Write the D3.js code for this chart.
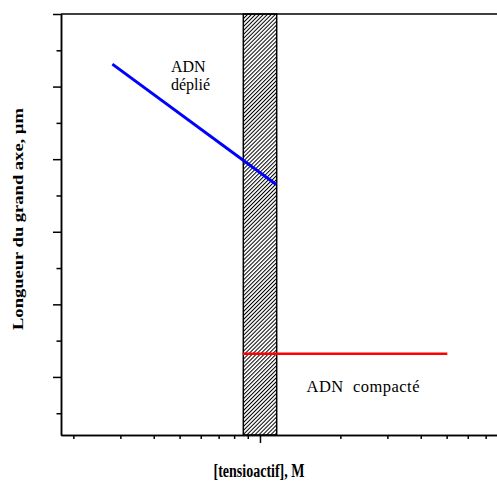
<!DOCTYPE html>
<html>
<head>
<meta charset="utf-8">
<script src="https://cdn.jsdelivr.net/npm/d3@7"></script>
<style>
  body { margin: 0; background: #fff; }
  text { font-family: "Liberation Serif", "Times New Roman", "DejaVu Serif", serif; }
  .axis path, .axis line { stroke: #000; stroke-width: 1.5; }
</style>
</head>
<body>
<div class="container"></div>
<script>
const WIDTH = 497,
      HEIGHT = 484,
      SERIF = '"Liberation Serif", "Times New Roman", "DejaVu Serif", serif';

// concentration band where the transition happens (M)
var band = [8.66e-4, 1.155e-3];
// unfolded DNA: long axis decreasing with surfactant concentration
var deplieX = [2.8e-4, 1.15e-3],
    deplieY = [5.31, 3.65];
// compacted DNA: constant length
var compacteX = [8.62e-4, 5.03e-3],
    compacteY = [1.32, 1.32];

var yMajor = [1, 2, 3, 4, 5, 6],
    yMinor = [0.5, 1.5, 2.5, 3.5, 4.5, 5.5];
var xMajor = [1e-3],
    xMinor = [2e-4, 3e-4, 4e-4, 5e-4, 6e-4, 7e-4, 8e-4, 9e-4, 2e-3, 3e-3, 4e-3, 5e-3, 6e-3, 7e-3];

var margin = {left: 61, top: 14, right: 0, bottom: 49};

var x = d3.scaleLog().domain([1.798e-4, 7.72e-3]).range([margin.left, WIDTH - margin.right]);
var y = d3.scaleLinear().domain([0.2, 6]).range([HEIGHT - margin.bottom, margin.top]);

var svg = d3.select('.container').append('svg')
    .attr('width', WIDTH).attr('height', HEIGHT);

var defs = svg.append('defs');
var pat = defs.append('pattern')
    .attr('id', 'hatch')
    .attr('patternUnits', 'userSpaceOnUse')
    .attr('width', 2.8).attr('height', 2.8)
    .attr('patternTransform', 'rotate(45)');
pat.append('line')
    .attr('x1', 0.5).attr('y1', 0).attr('x2', 0.5).attr('y2', 2.8)
    .attr('stroke', '#000').attr('stroke-width', 1);

// hatched transition zone
svg.append('rect')
    .attr('x', x(band[0])).attr('y', y(6))
    .attr('width', x(band[1]) - x(band[0]))
    .attr('height', y(0.2) - y(6))
    .attr('fill', 'url(#hatch)')
    .attr('stroke', '#000').attr('stroke-width', 1.5);

// top border
svg.append('line')
    .attr('x1', x.range()[0]).attr('x2', x.range()[1])
    .attr('y1', y(6)).attr('y2', y(6))
    .attr('stroke', '#000').attr('stroke-width', 1.5);

// axes
svg.append('g').attr('class', 'axis')
    .attr('transform', 'translate(' + margin.left + ',0)')
    .call(d3.axisLeft(y).tickValues(yMajor).tickSize(8).tickSizeOuter(0).tickFormat(''));
svg.append('g').attr('class', 'axis')
    .attr('transform', 'translate(' + margin.left + ',0)')
    .call(d3.axisLeft(y).tickValues(yMinor).tickSize(4.5).tickSizeOuter(0).tickFormat(''));

var yb = HEIGHT - margin.bottom;
svg.append('g').attr('class', 'axis')
    .attr('transform', 'translate(0,' + yb + ')')
    .call(d3.axisBottom(x).tickValues(xMajor).tickSize(8).tickSizeOuter(0).tickFormat(''));
svg.append('g').attr('class', 'axis')
    .attr('transform', 'translate(0,' + yb + ')')
    .call(d3.axisBottom(x).tickValues(xMinor).tickSize(4).tickSizeOuter(0).tickFormat(''));

var line = d3.line().x(d => x(d[0])).y(d => y(d[1]));

svg.append('path')
    .datum(d3.zip(deplieX, deplieY))
    .attr('d', line)
    .attr('fill', 'none').attr('stroke', '#0000ff').attr('stroke-width', 3);

svg.append('path')
    .datum(d3.zip(compacteX, compacteY))
    .attr('d', line)
    .attr('fill', 'none').attr('stroke', '#ff0000').attr('stroke-width', 2.5);

// annotations
svg.append('text').attr('x', 171).attr('y', 72)
    .attr('font-family', SERIF).attr('font-size', 16).text('ADN');
svg.append('text').attr('x', 171).attr('y', 90)
    .attr('font-family', SERIF).attr('font-size', 16).text('déplié');
svg.append('text').attr('x', 306.5).attr('y', 391.5)
    .attr('font-family', SERIF).attr('font-size', 16.5)
    .attr('textLength', 113).attr('lengthAdjust', 'spacing')
    .style('white-space', 'pre').text('ADN  compacté');

// axis titles (source image looks slightly stretched vertically)
svg.append('text')
    .attr('transform', 'translate(259,477) scale(1,1.2)')
    .attr('text-anchor', 'middle')
    .attr('font-family', SERIF)
    .attr('font-size', 15.5).attr('font-weight', 'bold')
    .attr('textLength', 91).attr('lengthAdjust', 'spacingAndGlyphs')
    .text('[tensioactif], M');

svg.append('text')
    .attr('transform', 'translate(23,219) rotate(-90)')
    .attr('text-anchor', 'middle')
    .attr('font-family', SERIF)
    .attr('font-size', 15).attr('font-weight', 'bold')
    .attr('textLength', 222).attr('lengthAdjust', 'spacingAndGlyphs')
    .text('Longueur du grand axe, µm');
</script>
</body>
</html>
